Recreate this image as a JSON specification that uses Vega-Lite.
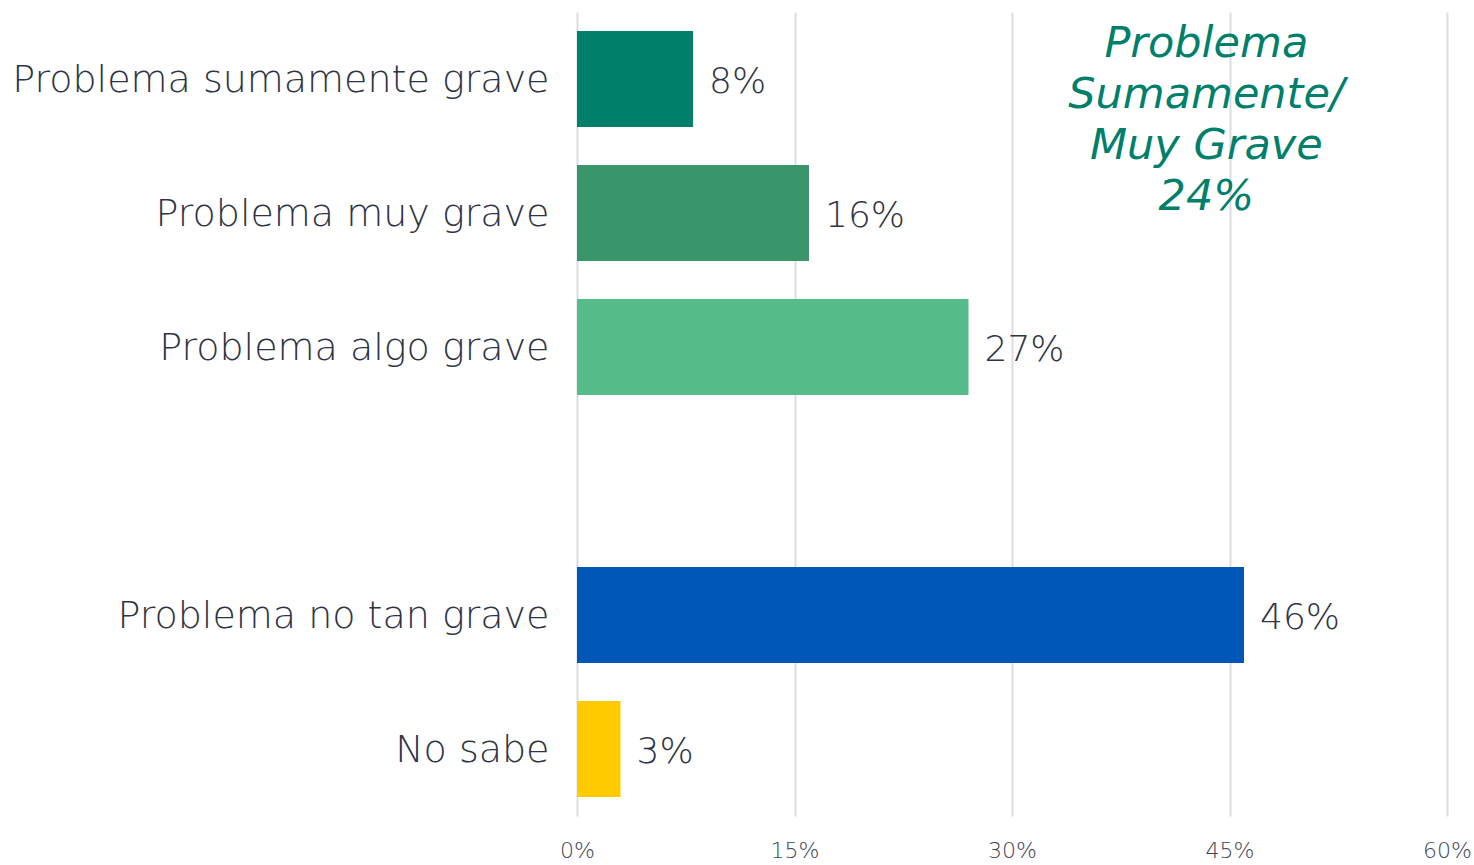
{
  "$schema": "https://vega.github.io/schema/vega-lite/v6.json",
  "width": 870,
  "height": 804,
  "autosize": {"type": "none"},
  "padding": {"left": 577, "top": 12, "right": 27, "bottom": 49},
  "background": "white",
  "config": {"view": {"stroke": null}, "font": "DejaVu Sans"},
  "data": {"values": [
    {"cat": "Problema sumamente grave", "v": 8, "label": "8%", "color": "#007f6b"},
    {"cat": "Problema muy grave", "v": 16, "label": "16%", "color": "#3a966a"},
    {"cat": "Problema algo grave", "v": 27, "label": "27%", "color": "#56bd8a"},
    {"cat": "Problema no tan grave", "v": 46, "label": "46%", "color": "#0057b8"},
    {"cat": "No sabe", "v": 3, "label": "3%", "color": "#ffcc00"}
  ]},
  "encoding": {
    "y": {"field": "cat", "type": "nominal",
      "scale": {"domain": ["Problema sumamente grave", "Problema muy grave", "Problema algo grave", "", "Problema no tan grave", "No sabe"], "paddingInner": 0.2836, "paddingOuter": 0.1418},
      "axis": {"title": null, "domain": false, "ticks": false, "labelFontSize": 38, "labelFontWeight": 200, "labelColor": "#2f3444", "labelPadding": 28, "labelLimit": 600, "labelOffset": 2}},
    "x": {"field": "v", "type": "quantitative",
      "scale": {"domain": [0, 60]},
      "axis": {"title": null, "domain": false, "ticks": false, "values": [0, 15, 30, 45, 60], "labelExpr": "datum.value + '%'", "labelFontSize": 22, "labelFontWeight": 200, "labelColor": "#3f4454", "labelPadding": 24, "gridColor": "#dcdde3", "gridWidth": 2, "labelFlush": false}}
  },
  "layer": [
    {"mark": {"type": "bar"}, "encoding": {"color": {"field": "color", "type": "nominal", "scale": null}}},
    {"mark": {"type": "text", "align": "left", "baseline": "middle", "dx": 16, "dy": 3, "fontSize": 36, "fontWeight": 200, "color": "#2f3444"}, "encoding": {"text": {"field": "label"}}},
    {"data": {"values": [{"x": 43.4, "cat": "Problema sumamente grave", "t": ["Problema", "Sumamente/", "Muy Grave", "24%"]}]},
     "mark": {"type": "text", "align": "center", "baseline": "middle", "dy": -35, "fontSize": 43, "fontStyle": "italic", "fontWeight": 200, "lineHeight": 51, "color": "#007f6b"},
     "encoding": {"x": {"field": "x", "type": "quantitative"}, "y": {"field": "cat", "type": "nominal"}, "text": {"field": "t"}}}
  ]
}
